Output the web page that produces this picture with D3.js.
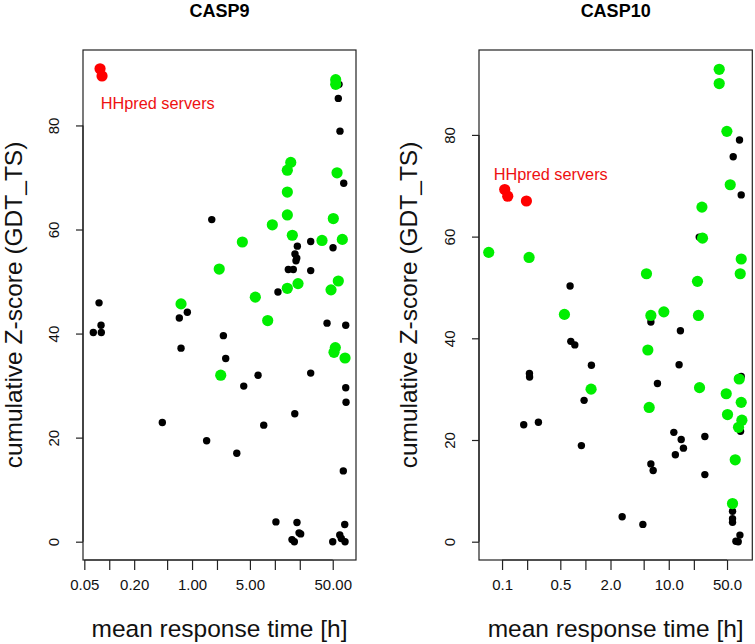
<!DOCTYPE html>
<html>
<head>
<meta charset="utf-8">
<script src="https://cdn.jsdelivr.net/npm/d3@7"></script>
<style>
  html, body { margin: 0; padding: 0; background: #fff; }
  svg { display: block; font-family: "Liberation Sans", Arial, Helvetica, sans-serif; }
</style>
</head>
<body>
<svg id="chart" width="755" height="644"></svg>
<script>
// ---------------- DATA ----------------
// [mean response time (h), cumulative Z-score (GDT_TS)]
const casp9Black = [
  [59.6,87.9],[58.4,85.2],[61.2,78.9],[67.9,68.9],[1.73,61.9],[18.7,56.8],[27.1,57.7],[50.4,56.5],
  [17.5,55.3],[18.4,54.5],[18.0,54.0],[14.55,52.3],[16.7,52.3],[27.1,52.1],[10.9,48.0],[0.0753,45.9],
  [0.877,44.1],[0.702,43.0],[0.0796,41.6],[0.0642,40.2],[0.0802,40.2],[42.7,42.0],[71.8,41.6],[2.39,39.6],
  [0.736,37.2],[2.55,35.2],[6.27,32.0],[27.1,32.4],[4.21,29.9],[71.8,29.6],[72.4,26.8],[17.4,24.6],
  [0.4375,22.9],[7.34,22.4],[1.50,19.4],[3.47,17.0],[67.1,13.6],[10.3,3.8],[18.5,3.7],[69.8,3.3],
  [19.6,1.7],[20.5,1.5],[60.8,1.3],[16.1,0.4],[17.2,0.0],[50.0,0.0],[63.5,0.6],[70.4,0.0]
];
const casp9Green = [
  [54.3,88.8],[54.3,87.9],[15.56,72.9],[14.15,71.4],[56.4,70.9],[14.15,67.2],[14.15,62.8],[50.8,62.1],
  [9.32,60.9],[16.26,58.9],[4.05,57.6],[37.1,57.9],[65.3,58.1],[2.13,52.4],[58.4,50.1],[47.7,48.4],
  [19.05,49.6],[14.15,48.7],[5.81,47.0],[0.736,45.7],[8.2,42.5],[53.7,37.3],[51.8,36.4],[70.4,35.3],
  [2.22,32.0]
];
const casp9Red = [[0.0774,90.9],[0.0818,89.5]];

const casp10Black = [
  [70.6,79.0],[59.3,75.7],[74.0,68.2],[23.2,59.9],[0.655,50.3],[6.10,43.2],[13.8,41.5],[0.668,39.4],
  [0.746,38.7],[1.18,34.7],[13.3,34.8],[0.213,33.1],[0.214,32.4],[74.0,32.5],[7.32,31.1],[0.964,27.8],
  [72.6,21.7],[0.182,23.0],[0.273,23.5],[0.895,18.9],[11.5,21.5],[14.1,20.1],[15.0,18.4],[12.0,17.1],
  [27.1,20.7],[6.10,15.3],[6.50,14.0],[27.1,13.2],[58.2,6.0],[58.2,4.5],[58.2,3.8],[2.76,4.9],
  [4.89,3.4],[71.4,1.3],[63.9,0.1],[68.1,0.0]
];
const casp10Green = [
  [40.3,92.9],[40.3,90.1],[49.8,80.7],[54.6,70.2],[25.0,65.8],[25.4,59.7],[0.0692,56.9],[0.211,55.9],
  [74.0,55.6],[72.0,52.7],[5.40,52.7],[22.1,51.2],[0.56,44.7],[6.10,44.5],[8.73,45.2],[22.7,44.5],
  [5.61,37.7],[70.0,32.0],[1.17,30.0],[23.4,30.3],[48.9,29.1],[74.0,27.4],[5.82,26.4],[50.7,25.0],
  [75.4,23.9],[68.7,22.5],[62.7,16.1],[58.2,7.5]
];
const casp10Red = [[0.1077,69.25],[0.117,67.95],[0.196,67.0]];

const casp9XTicks = [0.05,0.1,0.2,0.5,1,2,5,10,20,50];
const casp9XLabels = ["0.05","","0.20","","1.00","","5.00","","","50.00"];
const casp10XTicks = [0.1,0.2,0.5,1,2,5,10,20,50];
const casp10XLabels = ["0.1","","0.5","","2.0","","10.0","","50.0"];
const yTicks = [0,20,40,60,80];
const yLabels = ["0","20","40","60","80"];

const titles = ["CASP9","CASP10"];
const xTitle = "mean response time [h]";
const yTitle = "cumulative Z-score (GDT_TS)";
const annotation = "HHpred servers";

// ---------------- LAYOUT ----------------
const panels = [
  { title: titles[0], black: casp9Black, green: casp9Green, red: casp9Red,
    left: 83, right: 356, xDomain: [0.0482, 95.5], yDomain: [-3.52, 94.5],
    xTicks: casp9XTicks, xLabels: casp9XLabels, ann: [0.0789, 84.3], yTitleX: 22, yTickX: 59 },
  { title: titles[1], black: casp10Black, green: casp10Green, red: casp10Red,
    left: 479, right: 752.3, xDomain: [0.0529, 100.5], yDomain: [-3.6, 96.7],
    xTicks: casp10XTicks, xLabels: casp10XLabels, ann: [0.0795, 72.3], yTitleX: 417, yTickX: 455 }
];
const plotTop = 50, plotBottom = 560;

const svg = d3.select("#chart");

panels.forEach(p => {
  const x = d3.scaleLog().domain(p.xDomain).range([p.left, p.right]);
  const y = d3.scaleLinear().domain(p.yDomain).range([plotBottom, plotTop]);
  const g = svg.append("g");

  // points: black first, then green, then red
  g.append("g").selectAll("circle").data(p.black).join("circle")
    .attr("cx", d => x(d[0])).attr("cy", d => y(d[1])).attr("r", 3.7).attr("fill", "#000");
  g.append("g").selectAll("circle").data(p.green).join("circle")
    .attr("cx", d => x(d[0])).attr("cy", d => y(d[1])).attr("r", 5.6).attr("fill", "#00ee00");
  g.append("g").selectAll("circle").data(p.red).join("circle")
    .attr("cx", d => x(d[0])).attr("cy", d => y(d[1])).attr("r", 5.6).attr("fill", "#ff0000");

  // box
  g.append("rect").attr("x", p.left).attr("y", plotTop)
    .attr("width", p.right - p.left).attr("height", plotBottom - plotTop)
    .attr("fill", "none").attr("stroke", "#222").attr("stroke-width", 1.2);

  // x axis
  const xAxis = d3.axisBottom(x).tickValues(p.xTicks)
    .tickFormat((d, i) => p.xLabels[i]).tickSize(10).tickPadding(9);
  const xa = g.append("g").attr("transform", `translate(0,${plotBottom})`).call(xAxis);
  xa.select(".domain").attr("d", `M${x(p.xTicks[0])},0H${x(p.xTicks[p.xTicks.length-1])}`)
    .attr("stroke", "#222").attr("stroke-width", 1.2);
  xa.selectAll(".tick line").attr("stroke", "#222").attr("stroke-width", 1.2);
  xa.selectAll(".tick text").attr("font-size", 15).attr("fill", "#111")
    .attr("font-family", "Liberation Sans, Arial, sans-serif");

  // y axis
  const yAxis = d3.axisLeft(y).tickValues(yTicks).tickFormat((d, i) => yLabels[i]).tickSize(7);
  const ya = g.append("g").attr("transform", `translate(${p.left},0)`).call(yAxis);
  ya.select(".domain").attr("d", `M0,${y(yTicks[0])}V${y(yTicks[yTicks.length-1])}`)
    .attr("stroke", "#222").attr("stroke-width", 1.2);
  ya.selectAll(".tick line").attr("stroke", "#222").attr("stroke-width", 1.2);
  ya.selectAll(".tick text").remove();
  ya.selectAll(".tick").append("text")
    .attr("transform", `translate(${p.yTickX - p.left},0) rotate(-90)`)
    .attr("text-anchor", "middle").attr("font-size", 15).attr("fill", "#111")
    .attr("font-family", "Liberation Sans, Arial, sans-serif")
    .text((d, i) => yLabels[i]);

  // title
  g.append("text").attr("x", (p.left + p.right) / 2).attr("y", 17)
    .attr("text-anchor", "middle").attr("font-weight", "bold").attr("font-size", 18)
    .text(p.title);

  // axis titles
  g.append("text").attr("x", (p.left + p.right) / 2).attr("y", 637)
    .attr("text-anchor", "middle").attr("font-size", 24.5).attr("fill", "#111").text(xTitle);
  g.append("text").attr("transform", `translate(${p.yTitleX},${(plotTop + plotBottom) / 2}) rotate(-90)`)
    .attr("text-anchor", "middle").attr("font-size", 24.5).attr("fill", "#111").text(yTitle);

  // annotation
  g.append("text").attr("x", x(p.ann[0])).attr("y", y(p.ann[1]))
    .attr("dominant-baseline", "central").attr("font-size", 16.3).attr("fill", "#ee1111")
    .text(annotation);
});
</script>
</body>
</html>
